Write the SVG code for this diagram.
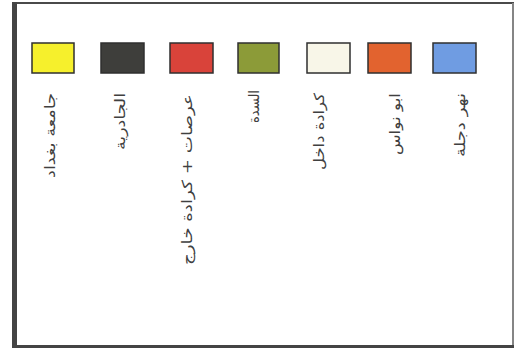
<svg xmlns="http://www.w3.org/2000/svg" width="516" height="350" viewBox="0 0 516 350">
  <style>
    .sw { stroke: #2f2f2f; stroke-width: 1.5; }
    .lbl { font-family: "DejaVu Sans", "Noto Sans", sans-serif; font-size: 14px; fill: #404040; text-anchor: end; }
  </style>
  <rect x="0" y="0" width="516" height="350" fill="#ffffff"/>
  <g id="frame">
    <rect x="15" y="3" width="498" height="344" fill="#ffffff" stroke="#4a4a4a" stroke-width="2"/>
    <line x1="513" y1="3" x2="513" y2="347" stroke="#9a9a9a" stroke-width="1.5"/>
    <line x1="14.5" y1="2" x2="14.5" y2="348" stroke="#444" stroke-width="5"/>
    <line x1="13" y1="346.5" x2="514" y2="346.5" stroke="#444" stroke-width="3"/>
  </g>
  <g id="item-baghdad-univ">
    <rect class="sw" x="32" y="43" width="42" height="30" fill="#f6f02c"/>
    <text class="lbl" transform="translate(55,93) rotate(-90)" textLength="85" lengthAdjust="spacingAndGlyphs">جامعة بغداد</text>
  </g>
  <g id="item-jadriya">
    <rect class="sw" x="101" y="43" width="43" height="30" fill="#3e3e3b"/>
    <text class="lbl" transform="translate(125,93) rotate(-90)" textLength="57" lengthAdjust="spacingAndGlyphs">الجادرية</text>
  </g>
  <g id="item-arasat">
    <rect class="sw" x="170" y="43" width="43" height="30" fill="#d9433a"/>
    <text class="lbl" transform="translate(192,94) rotate(-90)" textLength="171" lengthAdjust="spacingAndGlyphs">عرصات + كرادة خارج</text>
  </g>
  <g id="item-sadda">
    <rect class="sw" x="238" y="43" width="41" height="30" fill="#8c9b38"/>
    <text class="lbl" transform="translate(259,90) rotate(-90)" textLength="33" lengthAdjust="spacingAndGlyphs">السدة</text>
  </g>
  <g id="item-karada-dakhil">
    <rect class="sw" x="307" y="43" width="43" height="30" fill="#f8f6e8"/>
    <text class="lbl" transform="translate(324,93) rotate(-90)" textLength="77" lengthAdjust="spacingAndGlyphs">كرادة داخل</text>
  </g>
  <g id="item-abu-nuwas">
    <rect class="sw" x="368" y="43" width="43" height="30" fill="#e2632f"/>
    <text class="lbl" transform="translate(400,93) rotate(-90)" textLength="62" lengthAdjust="spacingAndGlyphs">ابو نواس</text>
  </g>
  <g id="item-tigris">
    <rect class="sw" x="433" y="43" width="43" height="30" fill="#6f9ce2"/>
    <text class="lbl" transform="translate(465,93) rotate(-90)" textLength="64" lengthAdjust="spacingAndGlyphs">نهر دجلة</text>
  </g>
  <g id="connectors"></g>
</svg>
